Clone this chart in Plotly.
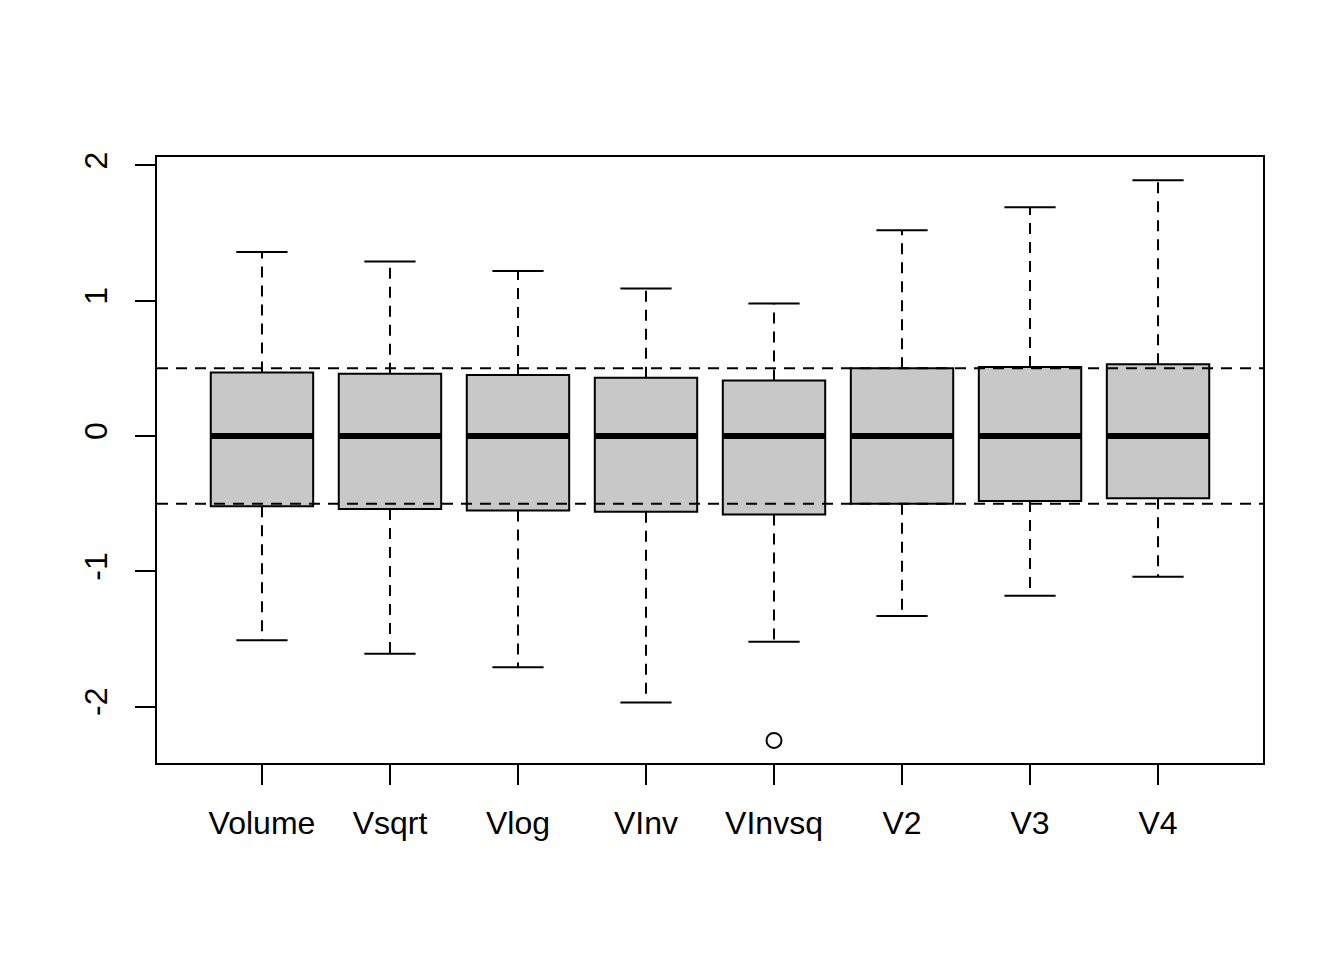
import plotly.graph_objects as go

# values
names = ["Volume", "Vsqrt", "Vlog", "VInv", "VInvsq", "V2", "V3", "V4"]
lower_whisker = [-1.51, -1.61, -1.71, -1.97, -1.52, -1.33, -1.18, -1.04]
q1 = [-0.52, -0.54, -0.55, -0.56, -0.58, -0.50, -0.48, -0.46]
median = [0.0, 0.0, 0.0, 0.0, 0.0, 0.0, 0.0, 0.0]
q3 = [0.47, 0.46, 0.45, 0.43, 0.41, 0.50, 0.51, 0.53]
upper_whisker = [1.36, 1.29, 1.22, 1.09, 0.98, 1.52, 1.69, 1.89]
outlier_group = [5]
outlier_value = [-2.25]
ref_lines = [-0.5, 0.5]

pos = list(range(1, len(names) + 1))
box_w = 0.8
cap_w = 0.4
font = dict(family="Liberation Sans, Arial, sans-serif", size=32, color="black")

fig = go.Figure()

# box bodies
fig.add_trace(go.Bar(
    x=pos, y=[b - a for a, b in zip(q1, q3)], base=q1, width=box_w,
    marker=dict(color="#C8C8C8", line=dict(color="black", width=2)),
    hoverinfo="skip",
))

# dashed whiskers
wx, wy = [], []
for p, lo, a, b, hi in zip(pos, lower_whisker, q1, q3, upper_whisker):
    wx += [p, p, None, p, p, None]
    wy += [b, hi, None, a, lo, None]
fig.add_trace(go.Scatter(x=wx, y=wy, mode="lines",
                         line=dict(color="black", width=2, dash="11px,8px")))

# whisker caps
cx, cy = [], []
for p, lo, hi in zip(pos, lower_whisker, upper_whisker):
    cx += [p - cap_w / 2, p + cap_w / 2, None, p - cap_w / 2, p + cap_w / 2, None]
    cy += [hi, hi, None, lo, lo, None]
fig.add_trace(go.Scatter(x=cx, y=cy, mode="lines", line=dict(color="black", width=2)))

# medians
mx, my = [], []
for p, m in zip(pos, median):
    mx += [p - box_w / 2, p + box_w / 2, None]
    my += [m, m, None]
fig.add_trace(go.Scatter(x=mx, y=my, mode="lines", line=dict(color="black", width=6)))

# outliers
fig.add_trace(go.Scatter(x=outlier_group, y=outlier_value, mode="markers",
                         marker=dict(symbol="circle-open", size=15, color="black",
                                     line=dict(width=2))))

for v in ref_lines:
    fig.add_shape(type="line", xref="paper", x0=0, x1=1, y0=v, y1=v, layer="above",
                  line=dict(color="black", width=2, dash="11px,8px"))

fig.update_layout(
    width=1344, height=960, showlegend=False,
    plot_bgcolor="white", paper_bgcolor="white",
    margin=dict(l=149, r=89, t=149, b=205),
    font=font,
)
fig.update_xaxes(range=[0.18, 8.82], tickvals=pos, ticktext=names,
                 showgrid=False, zeroline=False, showline=True, mirror=True,
                 linecolor="black", linewidth=2, ticks="outside", ticklen=20,
                 tickwidth=2, tickcolor="black", ticklabelstandoff=11)
fig.update_yaxes(range=[-2.417, 2.062], tickvals=[-2, -1, 0, 1, 2],
                 ticktext=["-2", "-1", "0", "1", "2"], tickangle=-90,
                 showgrid=False, zeroline=False, showline=True, mirror=True,
                 linecolor="black", linewidth=2, ticks="outside", ticklen=20,
                 tickwidth=2, tickcolor="black", ticklabelstandoff=15)

fig.write_html("out.html")
